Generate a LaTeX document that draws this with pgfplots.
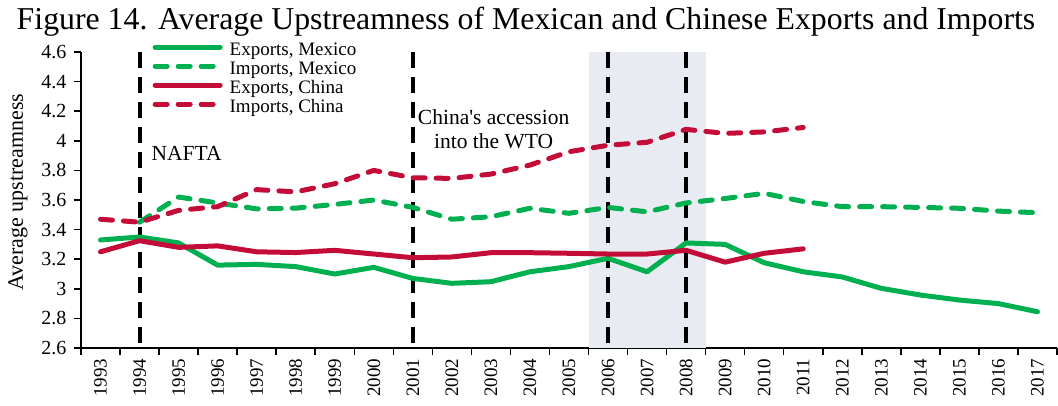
\documentclass[border=0pt]{standalone}
\usepackage{fontspec}
\setmainfont{Liberation Serif}
\usepackage{pgfplots}
\pgfplotsset{compat=1.18}
\definecolor{mxgreen}{RGB}{0,176,80}
\definecolor{cnred}{RGB}{196,12,56}
\definecolor{recess}{RGB}{232,235,241}
\begin{document}
\begin{tikzpicture}[x=1pt,y=1pt]
\useasboundingbox (-81,-57) rectangle (977,348);
\begin{axis}[
    at={(0,0)}, anchor=south west,
    width=976pt, height=296pt, scale only axis,
    xmin=-0.5, xmax=24.5, ymin=2.6, ymax=4.6,
    clip=false,
    axis x line*=bottom, axis y line*=left,
    axis line style={-, line width=1.5pt},
    every tick/.style={black, line width=1.5pt},
    tick align=outside,
    xtick={0,...,24},
    xticklabels={1993,1994,1995,1996,1997,1998,1999,2000,2001,2002,2003,2004,2005,2006,2007,2008,2009,2010,2011,2012,2013,2014,2015,2016,2017},
    major x tick style={draw=none},
    minor xtick={-0.5,0.5,...,24.5},
    minor tick length=7pt,
    major tick length=7pt,
    xticklabel style={rotate=90, anchor=east, font=\fontsize{19}{21}\selectfont},
    ytick={2.6,2.8,3,3.2,3.4,3.6,3.8,4,4.2,4.4,4.6},
    yticklabel style={font=\fontsize{20}{22}\selectfont, xshift=-4pt},
    /pgf/number format/assume math mode=true,
    ylabel={Average upstreamness},
    every axis y label/.style={at={(axis description cs:-0.0645,0.527)}, rotate=90, anchor=center, font=\fontsize{22}{24}\selectfont},
    legend style={at={(axis cs:1.33,4.665)}, anchor=north west, draw=none, fill=none,
        font=\fontsize{19}{19}\selectfont, inner sep=0pt, row sep=0pt,
        nodes={inner sep=0pt, text height=13pt, text depth=6pt},
        /tikz/every odd column/.append style={column sep=7pt}},
    legend cell align=left,
    legend image code/.code={\draw[#1] (0pt,5pt) -- (65pt,5pt);},
]
% recession shading 2006-2008
\addplot[fill=recess, draw=none, forget plot] coordinates {(12.5,2.6) (15.5,2.6) (15.5,4.6) (12.5,4.6)} -- cycle;
% event lines
\addplot[black, line width=4pt, dash pattern=on 16pt off 9pt, forget plot] coordinates {(1,4.6) (1,2.6)};
\addplot[black, line width=4pt, dash pattern=on 16pt off 9pt, forget plot] coordinates {(8,4.6) (8,2.6)};
\addplot[black, line width=4pt, dash pattern=on 16pt off 9pt, forget plot] coordinates {(13,4.6) (13,2.6)};
\addplot[black, line width=4pt, dash pattern=on 16pt off 9pt, forget plot] coordinates {(15,4.6) (15,2.6)};
% Exports, Mexico
\addplot[mxgreen, line width=5pt, line join=round, line cap=round] coordinates {
(0,3.33) (1,3.35) (2,3.31) (3,3.16) (4,3.165) (5,3.15) (6,3.10) (7,3.145) (8,3.07) (9,3.037)
(10,3.048) (11,3.115) (12,3.15) (13,3.206) (14,3.115) (15,3.31) (16,3.30) (17,3.176) (18,3.115)
(19,3.08) (20,3.003) (21,2.958) (22,2.924) (23,2.90) (24,2.845)};
% Imports, Mexico
\addplot[mxgreen, line width=5pt, line join=round, line cap=round, dash pattern=on 12pt off 11pt] coordinates {
(1,3.45) (2,3.62) (3,3.58) (4,3.54) (5,3.545) (6,3.57) (7,3.60) (8,3.55) (9,3.47)
(10,3.487) (11,3.544) (12,3.51) (13,3.55) (14,3.52) (15,3.58) (16,3.61) (17,3.645) (18,3.59)
(19,3.555) (20,3.555) (21,3.55) (22,3.544) (23,3.525) (24,3.514)};
% Exports, China
\addplot[cnred, line width=5pt, line join=round, line cap=round] coordinates {
(0,3.25) (1,3.325) (2,3.28) (3,3.29) (4,3.25) (5,3.245) (6,3.26) (7,3.235) (8,3.21) (9,3.215)
(10,3.244) (11,3.244) (12,3.24) (13,3.235) (14,3.235) (15,3.26) (16,3.18) (17,3.24) (18,3.27)};
% Imports, China
\addplot[cnred, line width=5pt, line join=round, line cap=round, dash pattern=on 12pt off 11pt] coordinates {
(0,3.47) (1,3.45) (2,3.53) (3,3.555) (4,3.67) (5,3.655) (6,3.71) (7,3.80) (8,3.75) (9,3.746)
(10,3.775) (11,3.836) (12,3.926) (13,3.97) (14,3.99) (15,4.077) (16,4.05) (17,4.06) (18,4.09)};
\legend{{Exports, Mexico},{Imports, Mexico},{Exports, China},{Imports, China}}
\node[anchor=base west, font=\fontsize{21.5}{24}\selectfont] at (axis cs:1.22,3.864) {NAFTA};
\node[anchor=base, font=\fontsize{21.5}{24}\selectfont] at (axis cs:10.07,4.111) {China\textquotesingle s accession};
\node[anchor=base, font=\fontsize{21.5}{24}\selectfont] at (axis cs:10.07,3.949) {into the WTO};
\end{axis}
\node[anchor=base, font=\fontsize{31.8}{36}\selectfont] at (445,318) {Figure 14. Average Upstreamness of Mexican and Chinese Exports and Imports};
\end{tikzpicture}
\end{document}
